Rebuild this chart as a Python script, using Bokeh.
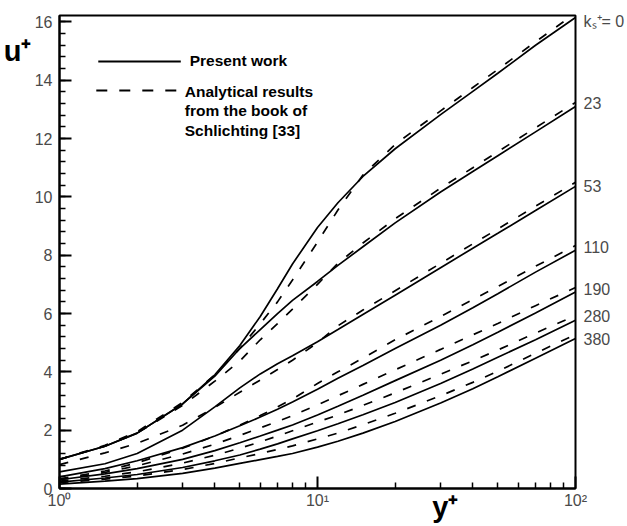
import numpy as np
from bokeh.plotting import figure
from bokeh.models import (Range1d, FixedTicker, SingleIntervalTicker, Label,
                          LinearAxis, LogAxis)
from bokeh.embed import file_html
from bokeh.resources import INLINE

# ---------------- data ----------------
y_plus = [1, 1.5, 2, 3, 4, 5, 6, 7, 8, 10, 12, 15, 20, 30, 40, 50, 70, 100]

ks_values = ["0", "23", "53", "110", "190", "280", "380"]

# Present work (solid lines), u+ at each y+
present_ks0 = [1.0, 1.45, 1.9, 2.9, 3.9, 4.9, 5.9, 6.85, 7.7, 8.95, 9.8, 10.7, 11.65, 12.82, 13.62, 14.24, 15.2, 16.15]
present_ks23 = [1.0, 1.45, 1.9, 2.9, 3.85, 4.8, 5.45, 6.0, 6.45, 7.1, 7.65, 8.29, 9.11, 10.17, 10.87, 11.41, 12.23, 13.1]
present_ks53 = [0.57, 0.85, 1.2, 2.0, 2.8, 3.45, 3.93, 4.28, 4.55, 5.03, 5.45, 5.97, 6.63, 7.57, 8.24, 8.75, 9.53, 10.36]
present_ks110 = [0.4, 0.68, 0.95, 1.4, 1.8, 2.15, 2.45, 2.72, 2.97, 3.4, 3.78, 4.22, 4.8, 5.6, 6.2, 6.68, 7.42, 8.17]
present_ks190 = [0.3, 0.5, 0.68, 1.0, 1.3, 1.57, 1.8, 2.0, 2.18, 2.52, 2.82, 3.2, 3.7, 4.4, 4.93, 5.36, 6.02, 6.74]
present_ks280 = [0.22, 0.36, 0.48, 0.72, 0.95, 1.15, 1.35, 1.53, 1.7, 1.98, 2.22, 2.53, 2.95, 3.6, 4.1, 4.5, 5.1, 5.77]
present_ks380 = [0.15, 0.25, 0.34, 0.52, 0.7, 0.86, 0.99, 1.1, 1.2, 1.42, 1.62, 1.9, 2.3, 2.93, 3.42, 3.83, 4.47, 5.14]

# Analytical results, Schlichting (dashed lines)
analytic_ks0 = [1.0, 1.48, 1.95, 2.95, 3.9, 4.8, 5.65, 6.4, 7.15, 8.45, 9.55, 10.75, 11.8, 12.95, 13.75, 14.37, 15.32, 16.3]
analytic_ks23 = [1.0, 1.45, 1.9, 2.85, 3.68, 4.37, 5.1, 5.65, 6.15, 7.0, 7.72, 8.42, 9.25, 10.3, 11.0, 11.55, 12.37, 13.24]
analytic_ks53 = [0.82, 1.22, 1.55, 2.17, 2.78, 3.3, 3.72, 4.08, 4.4, 5.0, 5.58, 6.12, 6.78, 7.72, 8.39, 8.9, 9.68, 10.5]
analytic_ks110 = [0.33, 0.6, 0.88, 1.38, 1.8, 2.17, 2.5, 2.8, 3.07, 3.6, 4.0, 4.47, 5.1, 5.9, 6.48, 6.93, 7.62, 8.33]
analytic_ks190 = [0.3, 0.55, 0.78, 1.18, 1.52, 1.82, 2.08, 2.3, 2.5, 2.87, 3.18, 3.57, 4.07, 4.77, 5.27, 5.66, 6.27, 6.89]
analytic_ks280 = [0.25, 0.42, 0.57, 0.87, 1.14, 1.38, 1.6, 1.8, 1.98, 2.28, 2.52, 2.85, 3.28, 3.92, 4.38, 4.75, 5.33, 5.93]
analytic_ks380 = [0.2, 0.32, 0.43, 0.65, 0.86, 1.05, 1.2, 1.34, 1.46, 1.7, 1.9, 2.19, 2.58, 3.18, 3.64, 4.02, 4.64, 5.28]

x_tick_values = [1, 10, 100]
x_tick_labels = ["10\u2070", "10\u00b9", "10\u00b2"]
x_minor_ticks = [2, 3, 4, 5, 6, 7, 8, 9, 20, 30, 40, 50, 60, 70, 80, 90]

x_title = "y\u207a"
y_title = "u\u207a"
ks_texts = ["k\u209b\u207a= 0", "23", "53", "110", "190", "280", "380"]

legend_present = "Present work"
legend_analytic = ["Analytical results", "from the book of", "Schlichting [33]"]

present = [present_ks0, present_ks23, present_ks53, present_ks110,
           present_ks190, present_ks280, present_ks380]
analytic = [analytic_ks0, analytic_ks23, analytic_ks53, analytic_ks110,
            analytic_ks190, analytic_ks280, analytic_ks380]

# ---------------- layout ----------------
W, H = 627, 526
L, R, T, B = 58, 50, 15, 38
X0, X1 = 1, 100
Y0, Y1 = 0, 16.22


def dx(px):
    return 10 ** (np.log10(X0) + (px - L) / (W - L - R) * (np.log10(X1) - np.log10(X0)))


def dy(py):
    return Y0 + (H - B - py) / (H - T - B) * (Y1 - Y0)


p = figure(width=W, height=H, x_axis_type="log",
           x_range=Range1d(X0, X1), y_range=Range1d(Y0, Y1),
           output_backend="svg", toolbar_location=None,
           min_border_left=L, min_border_right=R,
           min_border_top=T, min_border_bottom=B)
p.background_fill_color = "white"
p.border_fill_color = "white"
p.xgrid.visible = False
p.ygrid.visible = False
p.outline_line_color = "black"
p.outline_line_width = 2
p.outline_line_alpha = 1

GRAY = "#4a4a4a"
for ax in (p.xaxis, p.yaxis):
    ax.axis_line_color = "black"
    ax.axis_line_width = 2
    ax.major_tick_in = 12
    ax.major_tick_out = 0
    ax.minor_tick_in = 6
    ax.minor_tick_out = 0
    ax.major_tick_line_color = "black"
    ax.major_tick_line_width = 2
    ax.minor_tick_line_color = "black"
    ax.minor_tick_line_width = 1.5
    ax.major_label_text_font = "Liberation Sans"
    ax.major_label_text_font_size = "16px"
    ax.major_label_text_color = GRAY

p.xaxis.ticker = FixedTicker(ticks=x_tick_values, minor_ticks=x_minor_ticks)
p.xaxis.major_label_overrides = {float(v): s for v, s in zip(x_tick_values, x_tick_labels)}
p.xaxis.major_label_standoff = 3
p.yaxis.ticker = SingleIntervalTicker(interval=2, num_minor_ticks=5)
p.yaxis.major_label_standoff = 7


def bare_axis(cls, **kw):
    return cls(axis_line_color=None, major_tick_line_color=None,
               minor_tick_line_color=None, major_tick_in=0, major_tick_out=0,
               minor_tick_in=0, minor_tick_out=0, **kw)


# axis titles as single tick labels of bare axes, placed as in the reference
u_tick = dy(50)
u_axis = bare_axis(LinearAxis, ticker=FixedTicker(ticks=[u_tick]),
                   major_label_overrides={u_tick: y_title},
                   major_label_standoff=0,
                   major_label_text_font="Liberation Sans",
                   major_label_text_font_size="29px",
                   major_label_text_font_style="bold",
                   major_label_text_color="black")
p.add_layout(u_axis, "left")

y_tick = dx(446)
y_axis2 = bare_axis(LogAxis, ticker=FixedTicker(ticks=[y_tick]),
                    major_label_overrides={y_tick: x_title},
                    major_label_standoff=-21,
                    major_label_text_font="Liberation Sans",
                    major_label_text_font_size="29px",
                    major_label_text_font_style="bold",
                    major_label_text_color="black")
p.add_layout(y_axis2, "below")

# ks+ annotations at the right side, as labels of a bare axis
k_ticks = [dy(py) for py in [20.5, 102.5, 186, 246.5, 288.5, 315.5, 339]]
k_axis = bare_axis(LinearAxis, ticker=FixedTicker(ticks=k_ticks),
                   major_label_overrides={t: s for t, s in zip(k_ticks, ks_texts)},
                   major_label_standoff=8,
                   major_label_text_font="Liberation Sans",
                   major_label_text_font_size="16px",
                   major_label_text_color=GRAY)
p.add_layout(k_axis, "right")

DASH = "9 12"
for sol, das in zip(present, analytic):
    p.line(y_plus, das, line_color="black", line_width=1.7, line_dash=DASH)
    p.line(y_plus, sol, line_color="black", line_width=1.7)

# legend samples
p.line([dx(97), dx(180)], [dy(61), dy(61)], line_color="black", line_width=1.8)
p.line([dx(95), dx(180)], [dy(90), dy(90)], line_color="black", line_width=1.8,
       line_dash="11 12")


def lab(px, py, text, size, bold=False, color="black", baseline="middle", align="left"):
    p.add_layout(Label(x=dx(px), y=dy(py), text=text, x_units="data", y_units="data",
                       text_font="Liberation Sans", text_font_size=size,
                       text_font_style="bold" if bold else "normal",
                       text_color=color, text_baseline=baseline, text_align=align))


lab(189, 60, legend_present, "15.5px", bold=True)
for i, t in enumerate(legend_analytic):
    lab(184, 90.5 + 19.5 * i, t, "15.5px", bold=True)

open("out.html", "w").write(file_html(p, INLINE))
